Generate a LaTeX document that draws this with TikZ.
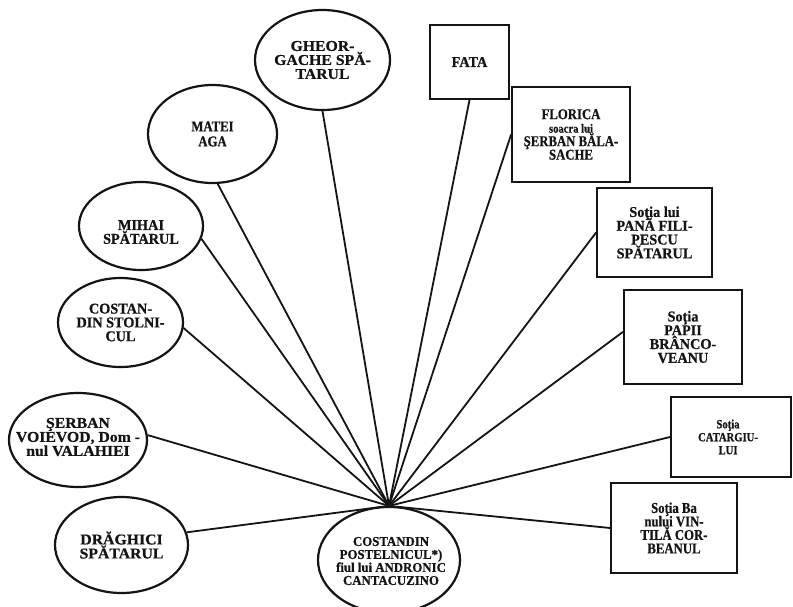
\documentclass[tikz,border=0pt]{standalone}
\usepackage{fontspec}
\usetikzlibrary{shapes.geometric}
\newfontfamily\fwide{Liberation Serif}[FakeStretch=1.05,FakeBold=0.6]
\newfontfamily\fnorm{Liberation Serif}[FakeStretch=0.95,FakeBold=0.6]
\newfontfamily\fnarr{Liberation Serif}[FakeStretch=0.85,FakeBold=0.6]
\lineskiplimit=-20pt\relax
\tikzset{
  son/.style={ellipse, draw=black!92, line width=2.2pt, inner sep=0pt},
  dau/.style={rectangle, draw=black!92, line width=1.8pt, inner sep=0pt},
  lbl/.style={inner sep=0pt, align=center, text=black!92},
  fw/.style={font=\fwide\bfseries\fontsize{15}{14}\selectfont},
  fn/.style={font=\fnorm\bfseries\fontsize{15}{13.8}\selectfont},
  fr/.style={font=\fnarr\bfseries\fontsize{15}{13.5}\selectfont},
  fc/.style={font=\fnorm\bfseries\fontsize{13.5}{13}\selectfont},
  fm/.style={font=\fnarr\bfseries\fontsize{15}{15}\selectfont},
  fs/.style={font=\fnarr\bfseries\fontsize{12.5}{13}\selectfont},
  link/.style={line width=1.8pt, draw=black!92},
}
\begin{document}
\begin{tikzpicture}[x=1pt,y=-1pt]
\lineskiplimit=-20pt\relax
\useasboundingbox[fill=white] (0,0) rectangle (793,606);

% central
\node[son, minimum width=142pt, minimum height=106pt] (root) at (389,560) {};
\node[lbl, fc] (root-t) at (391,561) {COSTANDIN\\POSTELNICUL*)\\fiul lui ANDRONIC\\CANTACUZINO};

% sons (ellipses)
\node[son, minimum width=135pt, minimum height=100pt] (gheo) at (322.5,60) {};
\node[lbl, fw] (gheo-t) at (gheo.center) {GHEOR-\\GACHE SPĂ-\\TARUL};

\node[son, minimum width=129pt, minimum height=98pt] (matei) at (212.5,134) {};
\node[lbl, fm] (matei-t) at (matei.center) {MATEI\\AGA};

\node[son, minimum width=124pt, minimum height=88pt] (mihai) at (141,226) {};
\node[lbl, fn] (mihai-t) at ([yshift=-6pt]mihai.center) {MIHAI\\SPĂTARUL};

\node[son, minimum width=125pt, minimum height=89pt] (costs) at (120.5,322.5) {};
\node[lbl, fn] (costs-t) at (costs.center) {COSTAN-\\DIN STOLNI-\\CUL};

\node[son, minimum width=138pt, minimum height=94pt] (serban) at (78,440) {};
\node[lbl, fw] (serban-t) at ([yshift=3pt]serban.center) {ŞERBAN\\VOIEVOD, Dom -\\nul VALAHIEI};

\node[son, minimum width=133pt, minimum height=96pt] (drag) at (121.5,545) {};
\node[lbl, fw] (drag-t) at (drag.center) {DRĂGHICI\\SPĂTARUL};

% daughters (rectangles)
\node[dau, minimum width=79pt, minimum height=74pt] (fata) at (469.5,62) {};
\node[lbl, fn] (fata-t) at (fata.center) {FATA};

\node[dau, minimum width=118pt, minimum height=95pt] (flor) at (571,134.5) {};
\node[lbl, fr] (flor-t) at (flor.center) {FLORICA\\{\fontsize{12.5}{13.5}\selectfont soacra lui}\\ŞERBAN BĂLA-\\SACHE};

\node[dau, minimum width=115pt, minimum height=89pt] (pana) at (654.5,232.5) {};
\node[lbl, fn] (pana-t) at (pana.center) {Soţia lui\\PANĂ FILI-\\PESCU\\SPĂTARUL};

\node[dau, minimum width=118pt, minimum height=94pt] (papii) at (683,337) {};
\node[lbl, fn] (papii-t) at (papii.center) {Soţia\\PAPII\\BRÂNCO-\\VEANU};

\node[dau, minimum width=120pt, minimum height=80pt] (catarg) at (731,437) {};
\node[lbl, fs] (catarg-t) at (728,437) {Soţia\\CATARGIU-\\LUI};

\node[dau, minimum width=126pt, minimum height=90pt] (vint) at (674,528) {};
\node[lbl, fr] (vint-t) at (vint.center) {Soţia Ba\\nului VIN-\\TILĂ COR-\\BEANUL};

% connectors
\draw[link] (root.north) -- (gheo.south);
\draw[link] (root.north) -- (matei.-84);
\draw[link] (root.north) -- (mihai.-12);
\draw[link] (root.north) -- (costs.-5);
\draw[link] (root.north) -- (serban.4);
\draw[link] (root.north) -- (drag.11);
\draw[link] (root.north) -- (fata.south);
\draw[link] (root.north) -- (flor.west);
\draw[link] (root.north) -- (pana.west);
\draw[link] (root.north) -- (papii.175);
\draw[link] (root.north) -- (catarg.west);
\draw[link] (root.north) -- (vint.west);
\end{tikzpicture}
\end{document}
